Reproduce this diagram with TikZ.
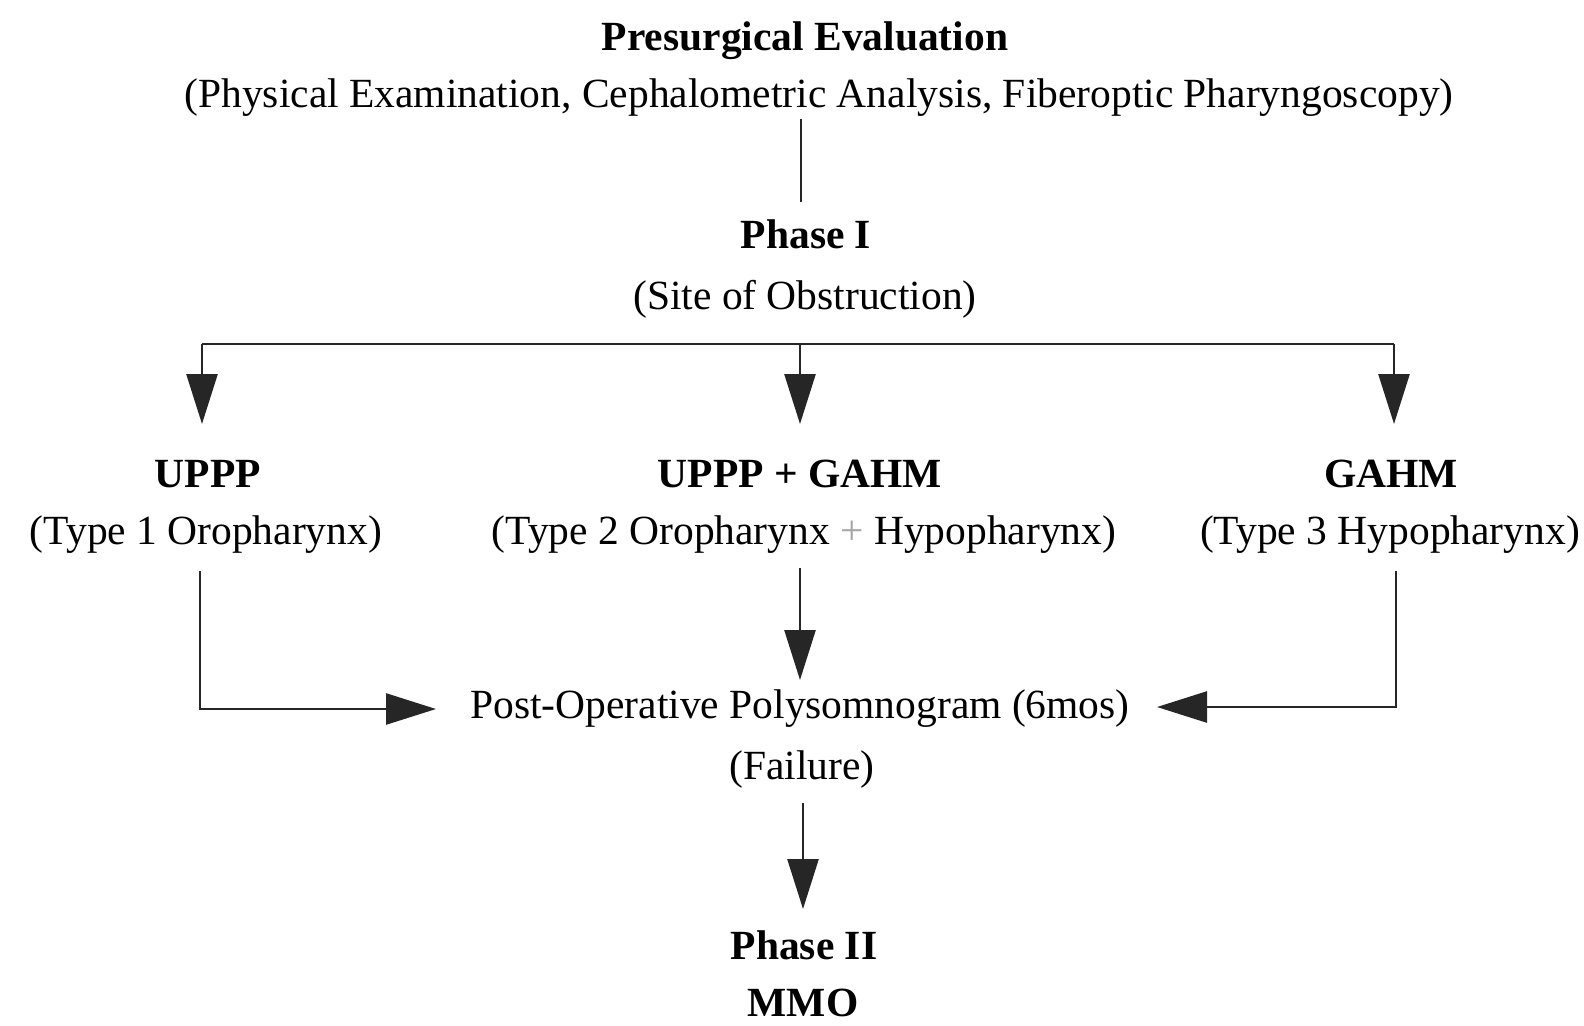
\documentclass[tikz,border=0pt]{standalone}
\usepackage{fontspec}
\setmainfont{Liberation Serif}
\usetikzlibrary{arrows.meta}
\begin{document}
\begin{tikzpicture}[x=1pt,y=1pt,
  lbl/.style={anchor=base,inner sep=0pt,font=\fontsize{41.5}{50}\selectfont},
  blbl/.style={lbl,font=\fontsize{41.5}{50}\selectfont\bfseries},
  conn/.style={line width=2.6pt,draw=black!85},
  arr/.style={conn,-{Triangle[length=50pt,width=31pt]}}]
\useasboundingbox (0,0) rectangle (1584,-1025);
% texts
\node[blbl] (pe)  at (805,-50.5) {Presurgical Evaluation};
\node[lbl]  (pe2) at (819,-107) {(Physical Examination, Cephalometric Analysis, Fiberoptic Pharyngoscopy)};
\node[blbl] (p1)  at (806,-248) {Phase I};
\node[lbl]  (site) at (805,-309) {(Site of Obstruction)};
\node[blbl] (uppp) at (208,-487) {UPPP};
\node[lbl]  (t1)  at (206,-544) {(Type 1 Oropharynx)};
\node[blbl] (both) at (800,-487) {UPPP + GAHM};
\node[lbl]  (t2)  at (804,-544) {(Type 2 Oropharynx \textcolor{black!35}{+} Hypopharynx)};
\node[blbl] (gahm) at (1391,-487) {GAHM};
\node[lbl]  (t3)  at (1390,-544) {(Type 3 Hypopharynx)};
\node[lbl]  (post) at (800,-718) {Post-Operative Polysomnogram (6mos)};
\node[lbl]  (fail) at (802,-779) {(Failure)};
\node[blbl] (p2)  at (804,-959) {Phase II};
\node[blbl] (mmo) at (803,-1016) {MMO};
% junction coordinates
\coordinate (topA) at (801,-119);
\coordinate (topB) at (801,-202);
\coordinate (hl) at (202,-344);
\coordinate (hm) at (800,-344);
\coordinate (hr) at (1394,-344);
\coordinate (al) at (202,-424);
\coordinate (am) at (800,-424);
\coordinate (ar) at (1394,-424);
\coordinate (lA) at (200,-571);
\coordinate (lB) at (200,-709);
\coordinate (lT) at (436,-709);
\coordinate (mA) at (800,-568);
\coordinate (mT) at (800,-680);
\coordinate (rA) at (1396,-571);
\coordinate (rB) at (1396,-707);
\coordinate (rT) at (1157,-707);
\coordinate (fA) at (803,-803);
\coordinate (fT) at (803,-909);
% connectors
\draw[conn] (topA) -- (topB);
\draw[conn] (hl) -- (hr);
\draw[arr] (hl) -- (al);
\draw[arr] (hm) -- (am);
\draw[arr] (hr) -- (ar);
\draw[arr] (lA) -- (lB) -- (lT);
\draw[arr] (mA) -- (mT);
\draw[arr] (rA) -- (rB) -- (rT);
\draw[arr] (fA) -- (fT);
\end{tikzpicture}
\end{document}
